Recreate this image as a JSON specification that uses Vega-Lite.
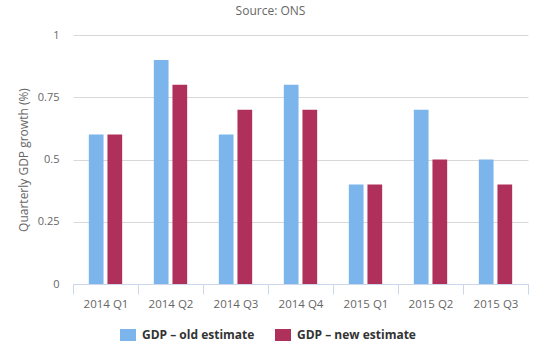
{
  "$schema": "https://vega.github.io/schema/vega-lite/v6.json",
  "width": 455,
  "height": 249,
  "autosize": {"type": "none"},
  "padding": {"left": 73, "top": 35, "right": 14, "bottom": 66},
  "background": "#ffffff",
  "config": {
    "view": {"stroke": null},
    "font": "Open Sans"
  },
  "title": {
    "text": "Source: ONS",
    "fontSize": 12,
    "fontWeight": "normal",
    "color": "#666666",
    "font": "Open Sans",
    "anchor": "middle",
    "dx": -30,
    "offset": 11
  },
  "data": {
    "values": [
      {"quarter": "2014 Q1", "series": "GDP – old estimate", "value": 0.6},
      {"quarter": "2014 Q2", "series": "GDP – old estimate", "value": 0.9},
      {"quarter": "2014 Q3", "series": "GDP – old estimate", "value": 0.6},
      {"quarter": "2014 Q4", "series": "GDP – old estimate", "value": 0.8},
      {"quarter": "2015 Q1", "series": "GDP – old estimate", "value": 0.4},
      {"quarter": "2015 Q2", "series": "GDP – old estimate", "value": 0.7},
      {"quarter": "2015 Q3", "series": "GDP – old estimate", "value": 0.5},
      {"quarter": "2014 Q1", "series": "GDP – new estimate", "value": 0.6},
      {"quarter": "2014 Q2", "series": "GDP – new estimate", "value": 0.8},
      {"quarter": "2014 Q3", "series": "GDP – new estimate", "value": 0.7},
      {"quarter": "2014 Q4", "series": "GDP – new estimate", "value": 0.7},
      {"quarter": "2015 Q1", "series": "GDP – new estimate", "value": 0.4},
      {"quarter": "2015 Q2", "series": "GDP – new estimate", "value": 0.5},
      {"quarter": "2015 Q3", "series": "GDP – new estimate", "value": 0.4}
    ]
  },
  "mark": {"type": "bar"},
  "encoding": {
    "x": {
      "field": "quarter",
      "type": "nominal",
      "scale": {"paddingInner": 0, "paddingOuter": 0},
      "axis": {
        "title": null,
        "labelAngle": 0,
        "labelColor": "#666666",
        "labelFontSize": 11.5,
        "labelFont": "Open Sans",
        "labelPadding": 4,
        "domainColor": "#ccd6eb",
        "tickColor": "#ccd6eb",
        "tickSize": 10,
        "tickBand": "extent",
        "grid": false
      }
    },
    "xOffset": {
      "field": "series",
      "type": "nominal",
      "sort": ["GDP – old estimate", "GDP – new estimate"],
      "scale": {"paddingInner": 0.21, "paddingOuter": 0.85}
    },
    "y": {
      "field": "value",
      "type": "quantitative",
      "scale": {"domain": [0, 1], "nice": false},
      "axis": {
        "title": "Quarterly GDP growth (%)",
        "titleColor": "#666666",
        "titleFontSize": 12,
        "titleFontWeight": "normal",
        "titleFont": "Open Sans",
        "titlePadding": 7,
        "values": [0, 0.25, 0.5, 0.75, 1],
        "format": ".2~f",
        "labelColor": "#666666",
        "labelFontSize": 11,
        "labelFont": "Open Sans",
        "labelPadding": 14,
        "domain": false,
        "ticks": false,
        "gridColor": "#d8d8d8"
      }
    },
    "color": {
      "field": "series",
      "type": "nominal",
      "scale": {
        "domain": ["GDP – old estimate", "GDP – new estimate"],
        "range": ["#7cb5ec", "#b0305c"]
      },
      "legend": {
        "title": null,
        "orient": "none",
        "legendX": 47,
        "legendY": 292,
        "direction": "horizontal",
        "labelFontSize": 12,
        "labelFontWeight": "bold",
        "labelColor": "#333333",
        "labelFont": "Open Sans",
        "labelOffset": 6,
        "symbolType": "M-1,-0.75H1V0.75H-1Z",
        "symbolSize": 256,
        "symbolStrokeWidth": 0,
        "symbolOpacity": 1,
        "columnPadding": 20
      }
    }
  }
}
